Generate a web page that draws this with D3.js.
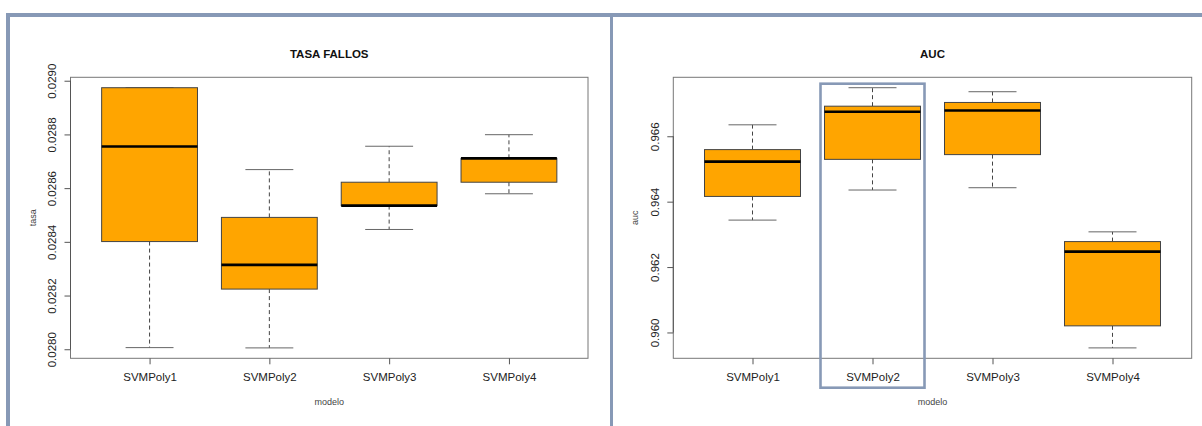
<!DOCTYPE html>
<html>
<head>
<meta charset="utf-8">
<script src="https://cdn.jsdelivr.net/npm/d3@7"></script>
<style>
  html, body { margin: 0; padding: 0; background: #fff; }
  svg { display: block; font-family: "Liberation Sans", Arial, sans-serif; }
</style>
</head>
<body>
<svg id="chart" width="1202" height="426"></svg>
<script>
// Models compared
const categories = ["SVMPoly1", "SVMPoly2", "SVMPoly3", "SVMPoly4"];

// Error rate (tasa) five-number summaries per model
const tasaMin    = [0.028006, 0.028005, 0.028446, 0.028579];
const tasaQ1     = [0.028401, 0.028224, 0.028535, 0.028622];
const tasaMedian = [0.028755, 0.028314, 0.028535, 0.028711];
const tasaQ3     = [0.028974, 0.028491, 0.028622, 0.028711];
const tasaMax    = [0.028974, 0.028669, 0.028756, 0.028799];
const tasaTicks  = [0.0280, 0.0282, 0.0284, 0.0286, 0.0288, 0.0290];

// AUC five-number summaries per model
const aucMin    = [0.963436, 0.964356, 0.964426, 0.959528];
const aucQ1     = [0.964160, 0.965294, 0.965439, 0.960202];
const aucMedian = [0.965224, 0.966748, 0.966788, 0.962472];
const aucQ3     = [0.965592, 0.966920, 0.967034, 0.962779];
const aucMax    = [0.966350, 0.967485, 0.967362, 0.963077];
const aucTicks  = [0.960, 0.962, 0.964, 0.966];

const svg = d3.select("#chart");
const frameColor = "#8799b6";

// Outer frame: top rule, left rule, panel divider
svg.append("rect").attr("x", 6).attr("y", 13).attr("width", 1196).attr("height", 4).attr("fill", frameColor);
svg.append("rect").attr("x", 6).attr("y", 13).attr("width", 4).attr("height", 413).attr("fill", frameColor);
svg.append("rect").attr("x", 610).attr("y", 13).attr("width", 3).attr("height", 413).attr("fill", frameColor);

function boxplot(opts) {
  const { left, right, top, bottom, title, ylab, stats, ticks, fmt } = opts;
  const g = svg.append("g");

  const rows = categories.map((c, i) => ({
    cat: c, min: stats.min[i], q1: stats.q1[i], med: stats.med[i], q3: stats.q3[i], max: stats.max[i]
  }));

  const x = d3.scalePoint().domain(categories).range([left, right]).padding(0.66);
  const lo = d3.min(rows, d => d.min), hi = d3.max(rows, d => d.max);
  const pad = (hi - lo) * 0.04;
  const y = d3.scaleLinear().domain([lo - pad, hi + pad]).range([bottom, top]);
  const bw = x.step() * 0.8;

  // plot border
  g.append("rect").attr("x", left).attr("y", top)
    .attr("width", right - left).attr("height", bottom - top)
    .attr("fill", "none").attr("stroke", "#777").attr("stroke-width", 1);

  // y axis
  const yAxis = g.append("g").attr("transform", `translate(${left},0)`)
    .call(d3.axisLeft(y).tickValues(ticks).tickFormat(fmt).tickSize(6).tickSizeOuter(0));
  yAxis.select(".domain").attr("stroke", "#555")
    .attr("d", `M0,${y(ticks[0])}V${y(ticks[ticks.length - 1])}`);
  yAxis.selectAll(".tick line").attr("stroke", "#555");
  yAxis.selectAll(".tick text")
    .attr("x", null).attr("dy", null)
    .attr("transform", "translate(-14.5,0) rotate(-90)")
    .attr("text-anchor", "middle")
    .attr("font-size", "11.5px").attr("fill", "#222");

  // x axis
  const xAxis = g.append("g").attr("transform", `translate(0,${bottom})`)
    .call(d3.axisBottom(x).tickSize(6).tickSizeOuter(0));
  xAxis.select(".domain").remove();
  xAxis.selectAll(".tick line").attr("stroke", "#555");
  xAxis.selectAll(".tick text").attr("y", null).attr("dy", null)
    .attr("transform", "translate(0,23)")
    .attr("font-size", "11.5px").attr("fill", "#222");

  // titles
  g.append("text").attr("x", (left + right) / 2).attr("y", 58)
    .attr("text-anchor", "middle").attr("font-weight", "bold")
    .attr("font-size", "11.5px").attr("fill", "#111").text(title);
  g.append("text").attr("x", (left + right) / 2).attr("y", 405)
    .attr("text-anchor", "middle").attr("font-size", "9px").attr("fill", "#444").text("modelo");
  g.append("text")
    .attr("transform", `translate(${left - 35},${(top + bottom) / 2}) rotate(-90)`)
    .attr("text-anchor", "middle").attr("font-size", "9px").attr("fill", "#444").text(ylab);

  const b = g.selectAll(".box").data(rows).join("g").attr("class", "box");

  // whiskers
  b.append("line").attr("x1", d => x(d.cat)).attr("x2", d => x(d.cat))
    .attr("y1", d => y(d.q3)).attr("y2", d => y(d.max))
    .attr("stroke", "#444").attr("stroke-dasharray", "4,3");
  b.append("line").attr("x1", d => x(d.cat)).attr("x2", d => x(d.cat))
    .attr("y1", d => y(d.q1)).attr("y2", d => y(d.min))
    .attr("stroke", "#444").attr("stroke-dasharray", "4,3");
  // staples
  b.append("line").attr("x1", d => x(d.cat) - bw / 4).attr("x2", d => x(d.cat) + bw / 4)
    .attr("y1", d => y(d.max)).attr("y2", d => y(d.max)).attr("stroke", "#666");
  b.append("line").attr("x1", d => x(d.cat) - bw / 4).attr("x2", d => x(d.cat) + bw / 4)
    .attr("y1", d => y(d.min)).attr("y2", d => y(d.min)).attr("stroke", "#666");
  // boxes
  b.append("rect").attr("x", d => x(d.cat) - bw / 2).attr("width", bw)
    .attr("y", d => y(d.q3)).attr("height", d => y(d.q1) - y(d.q3))
    .attr("fill", "#FFA500").attr("stroke", "#444").attr("stroke-width", 1);
  // medians
  b.append("line").attr("x1", d => x(d.cat) - bw / 2).attr("x2", d => x(d.cat) + bw / 2)
    .attr("y1", d => y(d.med)).attr("y2", d => y(d.med))
    .attr("stroke", "#000").attr("stroke-width", 2.6);

  return { g, x, y, bw };
}

boxplot({
  left: 70.5, right: 588, top: 77.3, bottom: 358.3,
  title: "TASA FALLOS", ylab: "tasa",
  stats: { min: tasaMin, q1: tasaQ1, med: tasaMedian, q3: tasaQ3, max: tasaMax },
  ticks: tasaTicks, fmt: d3.format(".4f")
});

const auc = boxplot({
  left: 673.3, right: 1191.7, top: 77.3, bottom: 358.3,
  title: "AUC", ylab: "auc",
  stats: { min: aucMin, q1: aucQ1, med: aucMedian, q3: aucQ3, max: aucMax },
  ticks: aucTicks, fmt: d3.format(".3f")
});

// Highlight around the SVMPoly2 AUC box
const hx = auc.x("SVMPoly2");
svg.append("rect").attr("x", hx - 52).attr("y", 83.7)
  .attr("width", 104).attr("height", 304)
  .attr("fill", "none").attr("stroke", frameColor).attr("stroke-width", 2.6);
</script>
</body>
</html>
